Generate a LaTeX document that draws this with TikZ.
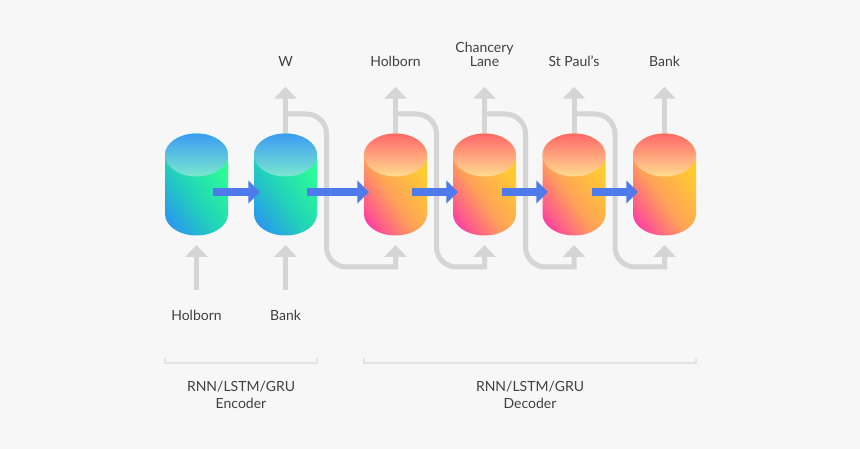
\documentclass[tikz,border=0pt]{standalone}
\usepackage{fontspec}
\setmainfont{Lato}
\usetikzlibrary{arrows.meta,calc}
\definecolor{bg}{HTML}{F7F7F7}
\definecolor{txt}{HTML}{404040}
\definecolor{arrgray}{HTML}{D5D5D5}
\definecolor{brk}{HTML}{E3E3E3}
\definecolor{bluearr}{HTML}{4F7AEB}
\definecolor{encA}{HTML}{2B8CF8}
\definecolor{encB}{HTML}{22D3B8}
\definecolor{encC}{HTML}{2CFC96}
\definecolor{encTop}{HTML}{3C9BF3}
\definecolor{encBot}{HTML}{7AE8CF}
\definecolor{decA}{HTML}{FF12CE}
\definecolor{decB}{HTML}{FF5A8C}
\definecolor{decC}{HTML}{FFA258}
\definecolor{decD}{HTML}{FFCC30}
\definecolor{decTop}{HTML}{FF6868}
\definecolor{decBot}{HTML}{FFDC90}
% visible range of a shading drawn on a rectangle: 25bp .. 75bp
\pgfdeclarehorizontalshading{encbody}{100bp}{color(0bp)=(encA); color(29bp)=(encA); color(46bp)=(encB); color(62bp)=(encC); color(100bp)=(encC)}
\pgfdeclarehorizontalshading{decbody}{100bp}{color(0bp)=(decA); color(27bp)=(decA); color(35bp)=(decB); color(46bp)=(decC); color(62bp)=(decD); color(100bp)=(decD)}
\newcommand\drawcyl[4]{%
  \begin{scope}
  \clip
    ({#1-31.5},155) -- ({#1-31.5},214)
    arc[start angle=180, end angle=360, x radius=31.5pt, y radius=21.5pt]
    -- ({#1+31.5},155)
    arc[start angle=0, end angle=180, x radius=31.5pt, y radius=21.5pt] -- cycle;
  \begin{scope}[transform canvas={rotate around={35:(#1,184.5)}}]
    \shade[shading=#2] ({#1-62},122.5) rectangle ({#1+62},246.5);
  \end{scope}
  \end{scope}
  \shade[top color=#3, bottom color=#4] (#1,155) ellipse [x radius=31.5pt, y radius=21.5pt];
}
\tikzset{
  cylbox/.style={minimum width=63pt, minimum height=103pt, inner sep=0pt, draw=none},
  garrow/.style={draw=arrgray, line width=5pt, -{Triangle[width=22pt,length=12pt]}},
  gloop/.style={draw=arrgray, line width=5pt, -{Triangle[width=22pt,length=12pt]}},
  barrow/.style={draw=bluearr, line width=7.3pt, -{Triangle[width=22.6pt,length=11.7pt]}},
  lbl/.style={font=\fontsize{14}{13.5}\selectfont, text=txt, inner sep=0pt, align=center},
  blbl/.style={font=\fontsize{14}{16.7}\selectfont, text=txt, inner sep=0pt, align=center},
  brack/.style={draw=brk, line width=1.3pt}
}
\begin{document}
\begin{tikzpicture}[x=1pt, y=-1pt]
\useasboundingbox (0,0) rectangle (860,449);
\fill[bg] (0,0) rectangle (860,449);
% cylinder placeholders
\node[cylbox] (c1) at (196.5,184.5) {};
\node[cylbox] (c2) at (285.5,184.5) {};
\node[cylbox] (c3) at (395.5,184.5) {};
\node[cylbox] (c4) at (484.5,184.5) {};
\node[cylbox] (c5) at (574,184.5) {};
\node[cylbox] (c6) at (664.5,184.5) {};
% coordinates
\foreach \i/\x in {2/285.5,3/395.5,4/484.5,5/574,6/664.5}{
  \coordinate (o\i) at (\x,86.7);
  \coordinate (s\i) at (\x,114);
}
\foreach \i/\x in {1/196.5,2/285.5,3/395.5,4/484.5,5/574,6/664.5}{
  \coordinate (t\i) at (\x,245);
}
\coordinate (i1) at (196.5,290);
\coordinate (i2) at (285.5,290);
% output arrows
\foreach \i in {2,...,6}{ \draw[garrow] (c\i.center) -- (o\i); }
% input arrows
\draw[garrow] (i1) -- (t1);
\draw[garrow] (i2) -- (t2);
% feedback loops
\foreach \a/\b in {2/3,3/4,4/5,5/6}{
  \draw[gloop] (s\a) -- ++(21,0) arc[start angle=90, end angle=0, radius=20pt]
     -- ++(0,113) arc[start angle=180, end angle=270, radius=20pt] -| (t\b);
}
% cylinders
\drawcyl{196.5}{encbody}{encTop}{encBot}
\drawcyl{285.5}{encbody}{encTop}{encBot}
\drawcyl{395.5}{decbody}{decTop}{decBot}
\drawcyl{484.5}{decbody}{decTop}{decBot}
\drawcyl{574}{decbody}{decTop}{decBot}
\drawcyl{664.5}{decbody}{decTop}{decBot}
% blue arrows
\draw[barrow] ($(c1.center)+(16.5,7.5)$) -- ($(c2.center)+(-25.5,7.5)$);
\draw[barrow] ($(c2.center)+(21.5,7.5)$) -- ($(c3.center)+(-26.5,7.5)$);
\draw[barrow] ($(c3.center)+(16.5,7.5)$) -- ($(c4.center)+(-26.5,7.5)$);
\draw[barrow] ($(c4.center)+(17.5,7.5)$) -- ($(c5.center)+(-26,7.5)$);
\draw[barrow] ($(c5.center)+(18,7.5)$) -- ($(c6.center)+(-26.5,7.5)$);
% top labels
\node[lbl, anchor=base] (lw) at (285.5,66.5) {W};
\node[lbl, anchor=base] (lho) at (395.5,66.5) {Holborn};
\node[lbl, anchor=south] (lcl) at (484.5,66.5) {Chancery\\Lane};
\node[lbl, anchor=base] (lsp) at (574,66.5) {St Paul’s};
\node[lbl, anchor=base] (lbk) at (664.5,66.5) {Bank};
% bottom labels
\node[lbl, anchor=base] (ih) at (196.5,320) {Holborn};
\node[lbl, anchor=base] (ib) at (285.5,320) {Bank};
% brackets
\draw[brack] (165,357.5) -- (165,363) -- (317,363) -- (317,357.5);
\draw[brack] (364,357.5) -- (364,363) -- (696,363) -- (696,357.5);
\node[blbl, anchor=north] (enc) at (241,381) {RNN/LSTM/GRU\\Encoder};
\node[blbl, anchor=north] (dec) at (530,381) {RNN/LSTM/GRU\\Decoder};
\end{tikzpicture}
\end{document}
